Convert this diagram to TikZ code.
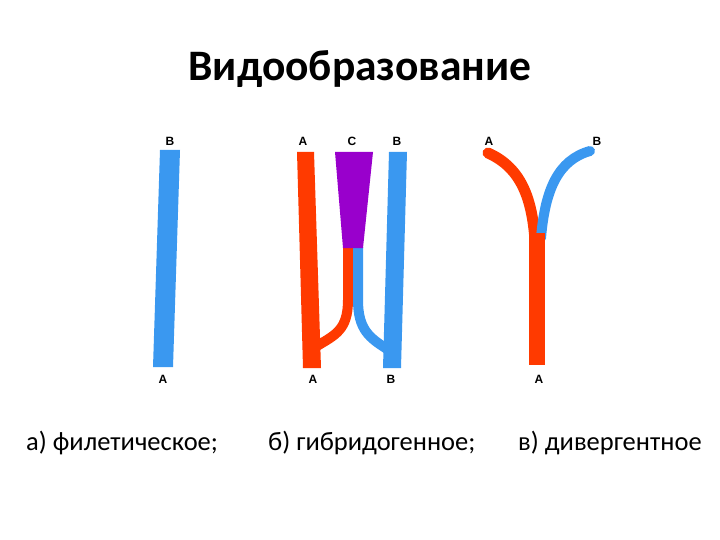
\documentclass[tikz,border=0pt]{standalone}
\usepackage{fontspec}
\setmainfont{Carlito}
\newfontfamily\lblfont{Liberation Sans}
\definecolor{bblue}{RGB}{58,152,240}
\definecolor{rred}{RGB}{255,58,0}
\definecolor{ppurple}{RGB}{153,0,204}
\begin{document}
\begin{tikzpicture}[x=1pt,y=-1pt,
  lbl/.style={font=\lblfont\bfseries\fontsize{12}{14}\selectfont,inner sep=0pt},
  captxt/.style={font=\fontsize{26.5}{30}\selectfont,inner sep=0pt,anchor=base west},
  redline/.style={draw=rred,line width=10pt},
  blueline/.style={draw=bblue,line width=10pt}]
\useasboundingbox (0,0) rectangle (720,540);
\node[font=\bfseries\fontsize{43.5}{50}\selectfont,inner sep=0pt] (title) at (360,69) {Видообразование};
% panel a
\fill[bblue] (160,150) -- (180,150) -- (173,367) -- (153,367) -- cycle;
\node[lbl] (aB) at (170,141) {B};
\node[lbl] (aA) at (163,379) {A};
% panel b
\draw[redline] (348,247) -- (348,300) .. controls (348,330) and (335,335) .. (317,346);
\draw[blueline] (358,247) -- (358,300) .. controls (358,330) and (370,338) .. (387,349);
\fill[rred] (297,152) -- (314,152) -- (321,368) -- (303,368) -- cycle;
\fill[bblue] (389,152) -- (407,152) -- (401,368) -- (383,368) -- cycle;
\fill[ppurple] (335,152) -- (373,152) -- (363,248) -- (343,248) -- cycle;
\node[lbl] (bA) at (303,141) {A};
\node[lbl] (bC) at (352,141) {C};
\node[lbl] (bB) at (397,141) {B};
\node[lbl] (bA2) at (313,379) {A};
\node[lbl] (bB2) at (391,379) {B};
% panel c
\draw[redline,line width=11pt,line cap=round] (488,153) .. controls (522,168) and (532,200) .. (535,240);
\draw[blueline,line cap=round] (590,151) .. controls (558,160) and (545,190) .. (541,238);
\fill[rred] (529,233) rectangle (545,365);
\node[lbl] (cA) at (489,141) {A};
\node[lbl] (cB) at (597,141) {B};
\node[lbl] (cA2) at (539,379) {A};
% captions
\node[captxt] (capa) at (26,450) {а) филетическое;};
\node[captxt] (capb) at (268,450) {б) гибридогенное;};
\node[captxt] (capc) at (518,450) {в) дивергентное};
\end{tikzpicture}
\end{document}
